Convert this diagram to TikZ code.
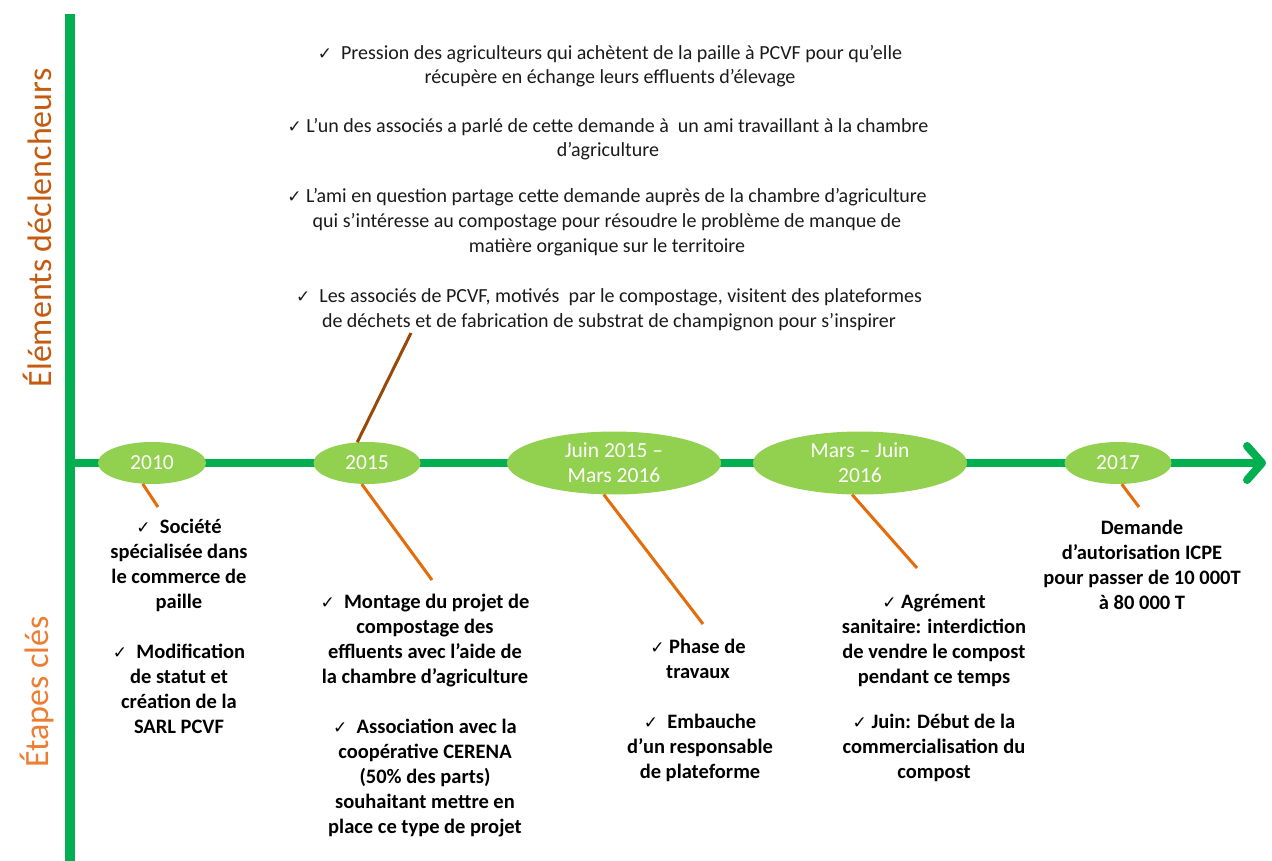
\documentclass[tikz,border=0pt]{standalone}
\usepackage{fontspec}
\setmainfont{Carlito}
\newfontfamily\ckfont{DejaVu Sans}
\usetikzlibrary{arrows.meta,shapes.geometric}
\definecolor{tlgreen}{HTML}{00B050}
\definecolor{ellgreen}{HTML}{92D050}
\definecolor{conorange}{HTML}{E46C0A}
\definecolor{conbrown}{HTML}{984807}
\definecolor{lbltop}{HTML}{C55A11}
\definecolor{lblbot}{HTML}{ED7D31}
\definecolor{toptext}{HTML}{1A1A1A}
\newcommand{\ck}{{\ckfont\fontsize{17}{17}\selectfont ✓}}
\tikzset{
  tline/.style={draw=tlgreen, line width=8pt},
  vline/.style={draw=tlgreen, line width=10pt},
  milestone/.style={ellipse, fill=ellgreen, draw=none, inner sep=0pt, text=white, align=center,
    font=\fontsize{21.5}{25}\selectfont},
  conn/.style={draw=conorange, line width=3pt},
  connup/.style={draw=conbrown, line width=3pt},
  toptxt/.style={anchor=base, inner sep=0pt, align=center, text=toptext,
    font=\fontsize{20}{24.6}\selectfont},
  bottxt/.style={anchor=base, inner sep=0pt, align=center, text=black,
    font=\bfseries\fontsize{20.5}{25}\selectfont},
  sidelbl/.style={rotate=90, inner sep=0pt, font=\fontsize{34}{34}\selectfont}
}
\begin{document}
\begin{tikzpicture}[x=1pt,y=-1pt]
\useasboundingbox (0,0) rectangle (1272,861);

% axes
\coordinate (vtop) at (70,14);
\coordinate (vbot) at (70,861);
\draw[vline] (vtop) -- (vbot);
\coordinate (tlstart) at (70,463);
\coordinate (tlend) at (1266,463);
\draw[tline, -{Straight Barb[length=15pt,width=34pt,round]}] (tlstart) -- (tlend);

% side labels
\node[sidelbl, text=lbltop] (lblA) at (37,228) {Éléments déclencheurs};
\node[sidelbl, text=lblbot] (lblB) at (37,692) {Étapes clés};

% connector end points
\coordinate (c10) at (158,507);
\coordinate (c15) at (432,580);
\coordinate (c15u) at (411,333);
\coordinate (cjuin) at (703,624);
\coordinate (cmars) at (917,568);
\coordinate (c17) at (1139,507);

% milestones
\node[milestone, minimum width=108pt, minimum height=42pt] (e2010) at (152,463) {2010};
\node[milestone, minimum width=107pt, minimum height=42pt] (e2015) at (367,463) {2015};
\node[milestone, minimum width=214pt, minimum height=63pt] (ejuin) at (614,463) {Juin 2015 –\\Mars 2016};
\node[milestone, minimum width=214pt, minimum height=63pt] (emars) at (860,463) {Mars – Juin\\2016};
\node[milestone, minimum width=107pt, minimum height=42pt] (e2017) at (1118,463) {2017};

% connectors
\draw[conn] (e2010.-114) -- (c10);
\draw[conn] (e2015.-104) -- (c15);
\draw[connup] (e2015.115) -- (c15u);
\draw[conn] (ejuin.-108) -- (cjuin);
\draw[conn] (emars.-104) -- (cmars);
\draw[conn] (e2017.-80) -- (c17);

% top texts (anchor = baseline of last line)
\node[toptxt] (t1) at (610,84) {\ck\ \ Pression des agriculteurs qui achètent de la paille à PCVF pour qu’elle\\récupère en échange leurs effluents d’élevage};
\node[toptxt] (t2) at (608,157) {\ck\ L’un des associés a parlé de cette demande à\ \ un ami travaillant à la chambre\\d’agriculture};
\node[toptxt] (t3) at (607,252) {\ck\ L’ami en question partage cette demande auprès de la chambre d’agriculture\\qui s’intéresse au compostage pour résoudre le problème de manque de\\matière organique sur le territoire};
\node[toptxt] (t4) at (609,327) {\ck\ \ Les associés de PCVF, motivés\ \ par le compostage, visitent des plateformes\\de déchets et de fabrication de substrat de champignon pour s’inspirer};

% bottom texts (anchor = baseline of last line)
\node[bottxt] (b10a) at (179,608) {\ck\ \ Société\\spécialisée dans\\le commerce de\\paille};
\node[bottxt] (b10b) at (179,733) {\ck\ \ Modification\\de statut et\\création de la\\SARL PCVF};
\node[bottxt] (b15a) at (425,683) {\ck\ \ Montage du projet de\\compostage des\\effluents avec l’aide de\\la chambre d’agriculture};
\node[bottxt] (b15b) at (425,833) {\ck\ \ Association avec la\\coopérative CERENA\\(50\% des parts)\\souhaitant mettre en\\place ce type de projet};
\node[bottxt] (bja) at (698,678) {\ck\ Phase de\\travaux};
\node[bottxt] (bjb) at (700,778) {\ck\ \ Embauche\\d’un responsable\\de plateforme};
\node[bottxt] (bma) at (934,683) {\ck\ Agrément\\sanitaire: interdiction\\de vendre le compost\\pendant ce temps};
\node[bottxt] (bmb) at (934,778) {\ck\ Juin: Début de la\\commercialisation du\\compost};
\node[bottxt] (b17) at (1142,609) {Demande\\d’autorisation ICPE\\pour passer de 10 000T\\à 80 000 T};
\end{tikzpicture}
\end{document}
